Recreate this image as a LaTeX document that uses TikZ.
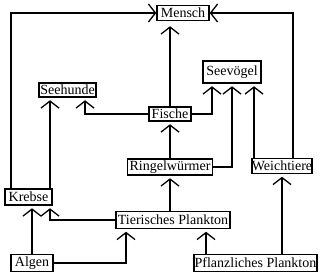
\documentclass[tikz,border=0pt]{standalone}
\usepackage{fontspec}
\setmainfont{Liberation Serif}
\usetikzlibrary{arrows.meta}
\tikzset{bx/.style={draw,line width=1.5pt,fill=white,inner sep=0pt,minimum height=15pt},
 ln/.style={line width=2pt},arr/.style={ln,-{Straight Barb[length=7pt,width=18pt,line width=1.3pt]},shorten >=2.5pt},
 every node/.style={font=\fontsize{14}{16}\selectfont}}
\begin{document}
\begin{tikzpicture}[x=1pt,y=-1pt]
\useasboundingbox[fill=white] (0,0) rectangle (328,280);
\node[bx,minimum width=52pt] (mensch) at (183,13) {Mensch};
\node[bx,minimum width=58pt,minimum height=22pt] (seevoegel) at (232,72) {Seevögel};
\node[bx,minimum width=57pt,minimum height=14pt] (seehunde) at (67.5,90) {Seehunde};
\node[bx,minimum width=42pt,minimum height=14pt] (fische) at (170,114) {Fische};
\node[bx,minimum width=85pt,minimum height=16pt] (ringel) at (170,167) {Ringelwürmer};
\node[bx,minimum width=60pt] (weich) at (282,166) {Weichtiere};
\node[bx,minimum width=47pt,minimum height=16pt] (krebse) at (28.5,197) {Krebse};
\node[bx,minimum width=114pt,minimum height=17pt] (tier) at (173,220) {Tierisches Plankton};
\node[bx,minimum width=42pt,minimum height=17pt] (algen) at (32,263) {Algen};
\node[bx,minimum width=123pt,minimum height=17pt] (pflanz) at (255.5,263) {Pflanzliches Plankton};
% Verbindungen
\draw[arr,shorten >=0pt] ([xshift=-17.5pt]krebse.north) |- (mensch.west);
\draw[arr,shorten >=0pt] ([xshift=11pt]weich.north) |- (mensch.east);
\draw[arr,shorten >=5pt] (fische.north) -- (fische.north |- mensch.south);
\draw[arr] ([xshift=21.5pt]krebse.north) -- ([xshift=21.5pt]krebse.north |- seehunde.south);
\draw[arr] (fische.west) -| ([xshift=17.5pt]seehunde.south);
\draw[arr] (fische.east) -| ([xshift=-20pt]seevoegel.south);
\draw[arr] (ringel.east) -| (seevoegel.south);
\draw[arr] ([xshift=22pt]seevoegel.south |- weich.north) -- ([xshift=22pt]seevoegel.south);
\draw[arr] (ringel) -- (fische);
\draw[arr] (tier.north -| ringel.south) -- (ringel.south);
\draw[arr] (tier.west) -| ([xshift=21.5pt]krebse.south);
\draw[arr] (algen.north) -- (algen.north |- krebse.south);
\draw[arr] (algen.east) -| ([xshift=-47pt]tier.south);
\draw[arr] ([xshift=-49.5pt]pflanz.north) -- ([xshift=-49.5pt]pflanz.north |- tier.south);
\draw[arr] (pflanz.north -| weich.south) -- (weich.south);
\end{tikzpicture}
\end{document}
